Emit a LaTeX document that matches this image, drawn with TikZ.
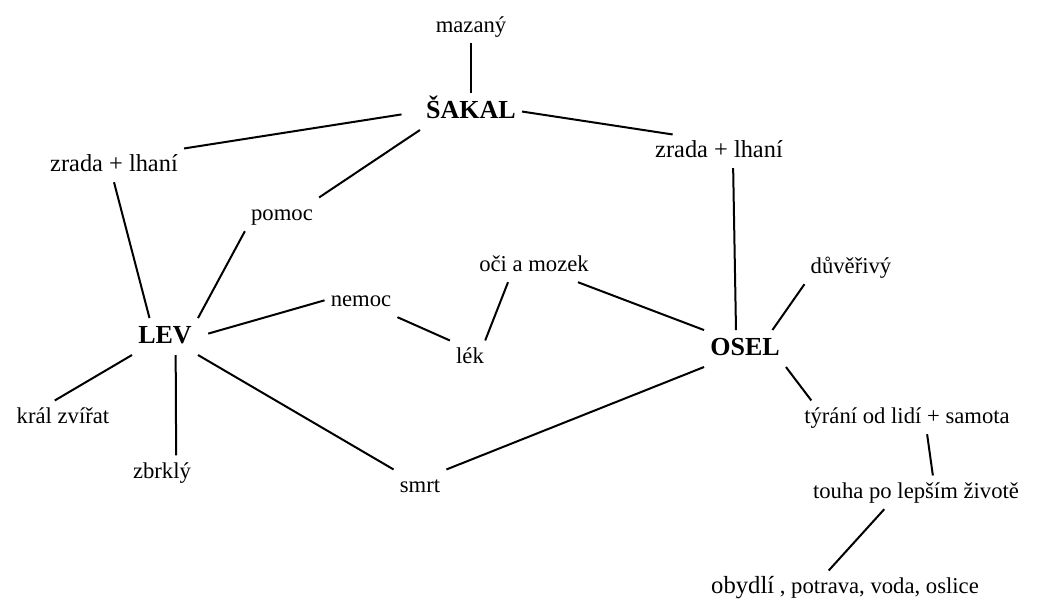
\documentclass[tikz,border=0pt]{standalone}
\usepackage{fontspec}
\setmainfont{Liberation Serif}
\usetikzlibrary{positioning}

\tikzset{
  word/.style={anchor=base, inner sep=4.5pt, font=\fontsize{17pt}{20pt}\selectfont,
    text height=12.2pt, text depth=3.7pt},
  wide/.style={word, font=\fontsize{18.3pt}{21pt}\selectfont},
  hero/.style={word, font=\fontsize{19.5pt}{23pt}\selectfont\bfseries,
    text height=14pt, text depth=4.3pt},
  link/.style={line width=1.5pt}
}

\begin{document}
\begin{tikzpicture}[x=0.75pt,y=-0.75pt]
\useasboundingbox (0,0) rectangle (1049,607);

\node[word] (mazany) at (471,32) {mazaný};
\node[hero] (SAKAL) at (471,118) {ŠAKAL};
\node[wide] (zradaL) at (114,171) {zrada + lhaní};
\node[wide] (zradaR) at (719,157) {zrada + lhaní};
\node[word] (pomoc) at (282,220) {pomoc};
\node[word] (oci) at (534,271) {oči a mozek};
\node[word] (duverivy) at (851,273) {důvěřivý};
\node[word] (nemoc) at (361,306) {nemoc};
\node[hero] (LEV) at (165,343) {LEV};
\node[hero] (OSEL) at (745,355) {OSEL};
\node[word] (lek) at (470,363) {lék};
\node[word] (kral) at (63,423) {král zvířat};
\node[word] (tyrani) at (907,423) {týrání od lidí + samota};
\node[word] (zbrkly) at (162,478) {zbrklý};
\node[word] (smrt) at (420,492) {smrt};
\node[word] (touha) at (916,498) {touha po lepším životě};
\node[word] (obydli) at (845,593) {{\fontsize{18.5pt}{22pt}\selectfont obydlí} , potrava, voda, oslice};

\path[link] (mazany.south) edge (SAKAL.north);
\path[link] (SAKAL.west) edge[shorten <=14pt] (zradaL.north east);
\path[link] (SAKAL.east) edge (zradaR.160);
\path[link] (SAKAL.south west) edge (pomoc.north east);
\path[link] (pomoc.south west) edge (LEV.north east);
\path[link] (zradaL.south) edge (LEV.130);
\path[link] (zradaR.-50) edge (OSEL.116);
\path[link] (oci.-21) edge (OSEL.north west);
\path[link] (oci.213) edge (lek.48);
\path[link] (nemoc.south east) edge (lek.north west);
\path[link] (LEV.east) edge[shorten <=8pt] (nemoc.west);
\path[link] (duverivy.south west) edge (OSEL.34);
\path[link] (OSEL.south east) edge (tyrani.170);
\path[link] (tyrani.-40) edge (touha.45);
\path[link] (touha.208) edge (obydli.134);
\path[link] (LEV.south west) edge (kral.116);
\path[link] (LEV.-60) edge (zbrkly.50);
\path[link] (LEV.south east) edge (smrt.north west);
\path[link] (smrt.north east) edge (OSEL.south west);
\end{tikzpicture}
\end{document}
